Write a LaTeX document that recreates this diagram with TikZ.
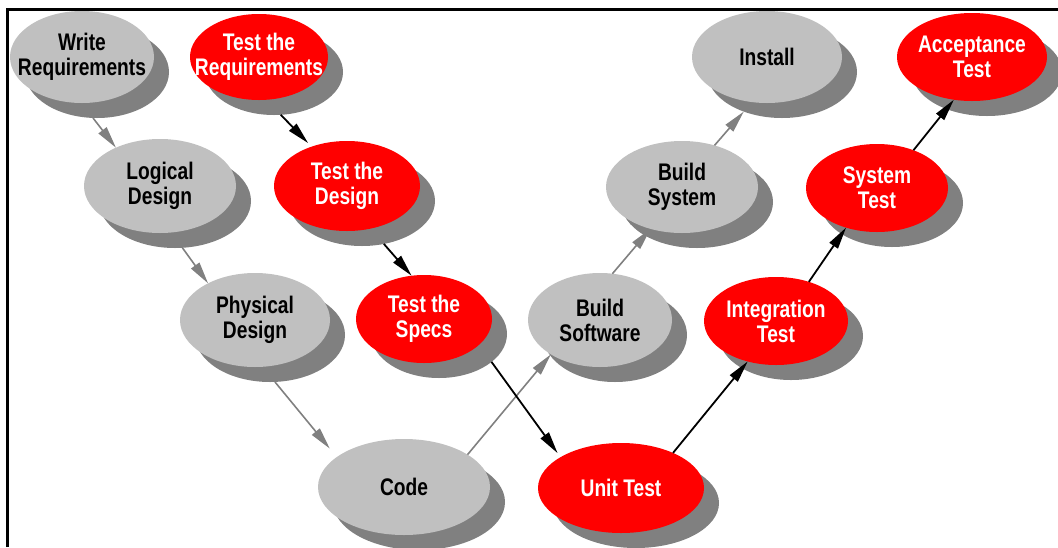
\documentclass[tikz,border=0pt]{standalone}
\usepackage{fontspec}
\newfontfamily\blobfont[FakeStretch=0.8]{Liberation Sans}
\usetikzlibrary{arrows.meta,shapes.geometric,shadows}
\definecolor{blobgray}{HTML}{C0C0C0}
\definecolor{shadegray}{HTML}{808080}
\definecolor{blobred}{HTML}{FF0000}

\tikzset{
  blob/.style={ellipse, inner sep=-40pt, outer sep=0pt, align=center,
    font=\blobfont\bfseries\fontsize{24}{25}\selectfont,
    drop shadow={shadow xshift=15pt, shadow yshift=-15pt, fill=shadegray, opacity=1}},
  plan node/.style={blob, fill=blobgray, text=black},
  test node/.style={blob, fill=blobred, text=white},
  oval/.style 2 args={minimum width=#1pt, minimum height=#2pt},
  sh/.style={shift={(15,15)}},
  build line/.style={draw=shadegray, line width=1.6pt, -{Triangle[length=22pt,width=10pt]}},
  test line/.style={draw=black, line width=1.8pt, -{Triangle[length=22pt,width=10pt]}}
}

\begin{document}
\begin{tikzpicture}[x=1pt,y=-1pt]
  \useasboundingbox (0,0) rectangle (1058,547);
  \draw[line width=3pt] (7.5,547) -- (7.5,9.5) -- (1058,9.5);

  % left leg
  \node[plan node, oval={144}{92}] (wreq) at (82,57) {Write\\Requirements};
  \node[plan node, oval={152}{94}] (logic) at (160,186) {Logical\\Design};
  \node[plan node, oval={150}{94}] (phys) at (255,320) {Physical\\Design};
  \node[plan node, oval={172}{96}] (code) at (404,487) {Code};
  % test leg
  \node[test node, oval={138}{86}] (treq) at (259,57) {Test the\\Requirements};
  \node[test node, oval={146}{90}] (tdes) at (347,186) {Test the\\Design};
  \node[test node, oval={136}{88}] (tspec) at (424,319) {Test the\\Specs};
  \node[test node, oval={166}{90}] (unit) at (621,488) {Unit Test};
  % right leg
  \node[plan node, oval={144}{94}] (bsoft) at (600,320) {Build\\Software};
  \node[plan node, oval={152}{92}] (bsys) at (682,187) {Build\\System};
  \node[plan node, oval={150}{92}] (inst) at (767,57) {Install};
  \node[test node, oval={144}{88}] (integ) at (776,321) {Integration\\Test};
  \node[test node, oval={142}{88}] (systest) at (877,188) {System\\Test};
  \node[test node, oval={150}{88}] (accept) at (972,57) {Acceptance\\Test};

  \begin{scope}[build line]
    \draw ([sh]wreq.-95) -- (logic.139);
    \draw ([sh]logic.-81) -- (phys.142);
    \draw[shorten >=11pt] ([sh]phys.-84) -- (code.156);
    \draw (code.27) -- (bsoft.215);
    \draw (bsoft.75) -- (bsys.233);
    \draw (bsys.52) -- ([sh]inst.226);
  \end{scope}

  \begin{scope}[test line]
    \draw[shorten >=5pt] ([sh]treq.-81) -- (tdes.132);
    \draw ([sh]tdes.-63) -- (tspec.106);
    \draw[shorten >=5pt] ([sh]tspec.-28) -- (unit.153);
    \draw (unit.34) -- (integ.235);
    \draw (integ.50) -- (systest.232);
    \draw (systest.46) -- (accept.247);
  \end{scope}
\end{tikzpicture}
\end{document}
